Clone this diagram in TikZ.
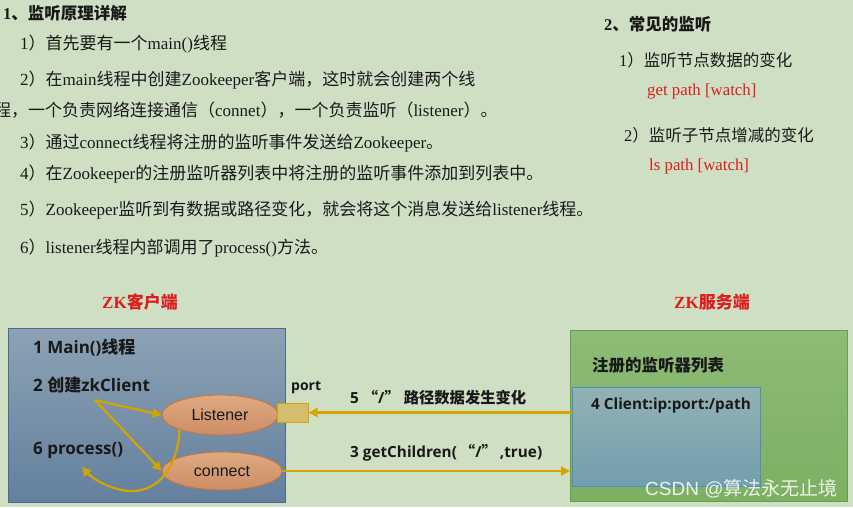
\documentclass[tikz,border=0pt]{standalone}
\usepackage{fontspec}
\setmainfont{Liberation Serif}
\newfontfamily\cjk{Noto Sans CJK SC}
\newfontfamily\osans{Open Sans}
\newfontfamily\lsans{Liberation Sans}
\usetikzlibrary{arrows.meta,shapes.geometric}
\newcommand\zh[1]{{\cjk #1}}
\definecolor{bg}{RGB}{206,223,195}
\definecolor{ink}{RGB}{25,25,25}
\definecolor{zkred}{RGB}{220,30,30}
\definecolor{gold}{RGB}{212,165,0}
\definecolor{cltop}{RGB}{140,162,180}
\definecolor{clbot}{RGB}{100,128,158}
\definecolor{clbd}{RGB}{75,105,145}
\definecolor{svtop}{RGB}{142,187,118}
\definecolor{svbot}{RGB}{125,175,100}
\definecolor{svbd}{RGB}{100,160,70}
\definecolor{intop}{RGB}{145,178,180}
\definecolor{inbot}{RGB}{115,158,172}
\definecolor{inbd}{RGB}{80,140,190}
\definecolor{eltop}{RGB}{222,170,130}
\definecolor{elbot}{RGB}{205,140,100}
\definecolor{elbd}{RGB}{200,115,60}
\definecolor{portfill}{RGB}{212,190,110}
\begin{document}
\begin{tikzpicture}[x=1pt,y=-1pt,
  txt/.style={anchor=west,inner sep=0pt,text=ink,font=\fontsize{17}{20}\selectfont},
  rtxt/.style={anchor=west,inner sep=0pt,text=ink,font=\fontsize{16.5}{19}\selectfont},
  redtxt/.style={anchor=west,inner sep=0pt,text=zkred,font=\fontsize{16.8}{19}\selectfont},
  head/.style={anchor=west,inner sep=0pt,text=ink,font=\bfseries\fontsize{16.5}{19}\selectfont},
  zkhead/.style={inner sep=0pt,text=zkred,font=\bfseries\fontsize{17}{20}\selectfont},
  lab/.style={anchor=west,inner sep=0pt,text=ink,font=\osans\bfseries\fontsize{17}{20}\selectfont},
  slab/.style={anchor=west,inner sep=0pt,text=ink,font=\osans\bfseries\fontsize{15.3}{18}\selectfont},
  ell/.style={ellipse,draw=elbd,line width=0.8pt,top color=eltop,bottom color=elbot,inner sep=0pt,font=\lsans\fontsize{16}{19}\selectfont,text=ink},
  garrow/.style={draw=gold,line width=2.2pt,-{Triangle[length=9pt,width=9pt]}}
]
\useasboundingbox (0,0) rectangle (853,507);
\fill[bg] (0,0) rectangle (853,507);

% top text
\node[head] (h1) at (3,13) {1\zh{、监听原理详解}};
\node[txt] (t1) at (20,44) {1\zh{）首先要有一个}main()\zh{线程}};
\node[txt] (t2) at (20,80) {2\zh{）在}main\zh{线程中创建}Zookeeper\zh{客户端，这时就会创建两个线}};
\node[txt] (t2b) at (-6,110) {\zh{程，一个负责网络连接通信（}connet\zh{），一个负责监听（}listener\zh{）。}};
\node[txt] (t3) at (20,143) {3\zh{）通过}connect\zh{线程将注册的监听事件发送给}Zookeeper\zh{。}};
\node[txt] (t4) at (20,174) {4\zh{）在}Zookeeper\zh{的注册监听器列表中将注册的监听事件添加到列表中。}};
\node[txt] (t5) at (20,210) {5\zh{）}Zookeeper\zh{监听到有数据或路径变化，就会将这个消息发送给}listener\zh{线程。}};
\node[txt] (t6) at (20,248) {6\zh{）}listener\zh{线程内部调用了}process()\zh{方法。}};

\node[head] (h2) at (604,24) {2\zh{、常见的监听}};
\node[rtxt] (r1) at (619,60) {1\zh{）监听节点数据的变化}};
\node[redtxt] (r1c) at (647,91) {get path [watch]};
\node[rtxt] (r2) at (624,135) {2\zh{）监听子节点增减的变化}};
\node[redtxt] (r2c) at (649,166) {ls path [watch]};

% headings of diagram
\node[zkhead] (zkc) at (140,302) {ZK\zh{客户端}};
\node[zkhead] (zks) at (712,302) {ZK\zh{服务端}};

% client box
\node[draw=clbd,line width=1pt,top color=cltop,bottom color=clbot,anchor=north west,minimum width=277pt,minimum height=174pt,inner sep=0pt] (cl) at (8,328) {};
\node[lab] (m1) at (33,348) {1 Main()\zh{线程}};
\node[lab] (m2) at (33,385) {2 \zh{创建}zkClient};
\node[lab] (m6) at (33,450) {6 process()};

\node[ell,minimum width=116pt,minimum height=40pt] (L) at (220,415) {Listener};
\node[ell,minimum width=120pt,minimum height=38pt] (C) at (222,471) {connect};
\node[draw=gold,line width=1pt,fill=portfill,minimum width=31pt,minimum height=19pt,inner sep=0pt] (P) at (292.5,412.5) {};
\node[lab,font=\osans\bfseries\fontsize{14}{16}\selectfont] (pl) at (291,388) {port};

% server box
\node[draw=svbd,line width=1pt,top color=svtop,bottom color=svbot,anchor=north west,minimum width=277pt,minimum height=171pt,inner sep=0pt] (S) at (570,330) {};
\node[slab,font=\osans\bfseries\fontsize{16.5}{19}\selectfont] (sl) at (592,365) {\zh{注册的监听器列表}};
\node[draw=inbd,line width=1pt,top color=intop,bottom color=inbot,anchor=north west,minimum width=188pt,minimum height=99pt,inner sep=0pt] (I) at (572,387) {};
\node[slab] (il) at (591,406) {4 Client:ip:port:/path};

% arrow labels
\node[slab] (a5) at (350,398) {5 \zh{“}/\zh{”}\hspace{4pt}\zh{路径数据发生变化}};
\node[slab] (a3) at (350,453) {3 getChildren(\hspace{3pt}\zh{“}/\zh{”}\hspace{3pt},true)};

% connectors
\coordinate (zk) at (95,400);
\coordinate (pe) at (82,467);
\draw[garrow] (zk) -- (L.west);
\draw[garrow] (zk) -- (C.west);
\draw[garrow] (L.200) .. controls (178,465) and (160,492) .. (130,491) .. controls (110,490) and (92,478) .. (pe);
\draw[garrow] (I.west |- P.east) -- (P.east);
\draw[garrow] (C.east) -- (S.west |- C.east);

% watermark
\node[anchor=west,inner sep=0pt,text=white,opacity=0.85,font=\lsans\fontsize{19}{21}\selectfont] (wm) at (645,489) {CSDN @\zh{算法永无止境}};
\end{tikzpicture}
\end{document}
